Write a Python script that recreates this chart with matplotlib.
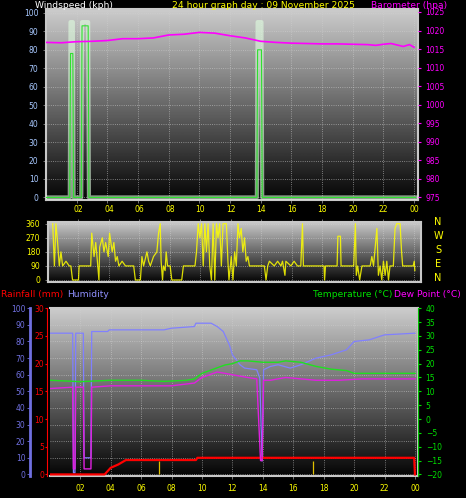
import matplotlib
matplotlib.use("Agg")
import matplotlib.pyplot as plt
import numpy as np

# ---- data ----
hour_ticks = [2, 4, 6, 8, 10, 12, 14, 16, 18, 20, 22, 24]
hour_labels = ["02", "04", "06", "08", "10", "12", "14", "16", "18", "20", "22", "00"]

wind_h = [0, 1.55, 1.6, 1.75, 1.8, 2.3, 2.35, 2.75, 2.8, 13.75, 13.8, 14.05, 14.1, 24.1]
wind_v = [0, 0, 78, 78, 0, 0, 93, 93, 0, 0, 80, 80, 0, 0]
gust_v = [0, 0, 95, 95, 0, 0, 95, 95, 0, 0, 95, 95, 0, 0]

baro_h = [0, 1, 2, 3, 4, 5, 6, 7, 8, 9, 10, 11, 12, 13, 14, 15, 16, 17, 18, 19, 20,
          21, 21.5, 22, 22.5, 23, 23.3, 23.7, 24]
baro_v = [1016.8, 1016.7, 1017.0, 1017.1, 1017.3, 1017.8, 1017.8, 1018.0, 1018.8, 1019.0,
          1019.5, 1019.3, 1018.6, 1018.0, 1017.1, 1016.8, 1016.6, 1016.5, 1016.4, 1016.4,
          1016.3, 1016.2, 1016.0, 1016.3, 1016.5, 1016.0, 1015.7, 1016.2, 1015.5]

dir_h = [0.31, 0.42, 0.52, 0.63, 0.74, 0.85, 0.96, 1.18, 1.39, 1.50, 1.61, 2.0, 2.04, 2.80,
         2.87, 3.02, 3.13, 3.24, 3.34, 3.39, 3.56, 3.67, 3.78, 3.95, 4.04, 4.21, 4.32, 4.43,
         4.54, 4.65, 4.86, 5.08, 5.62, 5.73, 6.06, 6.12, 6.16, 6.27, 6.49, 6.60, 6.71, 6.92,
         7.14, 7.25, 7.36, 7.42, 7.51, 7.57, 7.68, 7.75, 7.84, 8.01, 8.12, 8.77, 8.88, 9.64,
         9.74, 9.85, 9.96, 10.07, 10.18, 10.29, 10.39, 10.50, 10.61, 10.72, 10.83, 10.94,
         11.05, 11.15, 11.26, 11.37, 11.48, 11.70, 11.80, 11.87, 12.02, 12.13, 12.24, 12.35,
         12.46, 12.56, 12.67, 12.78, 12.89, 13.00, 13.11, 13.21, 13.54, 14.19, 14.30, 14.41,
         14.52, 14.84, 15.06, 15.28, 15.38, 15.54, 15.60, 15.93, 16.14, 16.36, 16.58, 16.69,
         16.75, 18.10, 18.14, 18.20, 18.96, 19.01, 19.18, 19.22, 20.05, 20.16, 20.22, 20.31,
         20.44, 20.59, 21.13, 21.24, 21.35, 21.57, 21.67, 21.78, 21.89, 22.00, 22.11, 22.22,
         22.33, 22.43, 22.65, 22.76, 22.87, 23.09, 23.19, 23.26, 23.95, 24.02, 24.06]
dir_v = [360, 90, 360, 240, 90, 180, 90, 120, 90, 90, 0, 0, 90, 90,
         300, 150, 240, 120, 0, 210, 270, 180, 240, 150, 300, 180, 240, 120,
         150, 90, 120, 90, 90, 0, 0, 90, 150, 90, 180, 120, 90, 150,
         180, 300, 360, 120, 0, 90, 60, 180, 90, 90, 0, 0, 90, 90,
         180, 360, 270, 360, 90, 360, 180, 360, 90, 0, 360, 0,
         360, 270, 360, 90, 360, 360, 120, 0, 150, 0, 180, 90,
         360, 270, 330, 180, 270, 120, 150, 90, 90, 90, 0, 90,
         120, 90, 120, 90, 120, 30, 120, 90, 120, 90, 90, 360,
         90, 90, 0, 90, 90, 280, 280, 90, 90, 360, 30, 90,
         0, 90, 90, 150, 90, 330, 30, 90, 0, 120, 30, 120,
         0, 90, 90, 330, 360, 360, 180, 90, 90, 120, 60]

hum_h = [0, 1.5, 1.55, 1.65, 1.7, 2.2, 2.25, 2.7, 2.75, 3.8, 3.9, 7.5, 8.0, 9.5, 9.6, 10.6,
         11.0, 11.4, 11.8, 12.0, 12.5, 12.8, 13.6, 13.8, 13.95, 14.05, 14.5, 15.0, 15.8,
         16.5, 17.0, 17.5, 18.5, 19.5, 20.0, 21.0, 22.0, 24.0]
hum_v = [85, 85, 1, 1, 85, 85, 10, 10, 86, 86, 87, 87, 88, 89, 91, 91,
         89, 86, 78, 72, 66, 64, 63, 58, 8, 63, 65, 66, 64,
         66, 68, 70, 72, 75, 80, 81, 84, 85]

temp_h = [0, 2, 4, 6, 7.5, 9, 9.5, 10, 10.5, 11, 11.5, 12, 12.5, 13, 14, 15, 15.5, 16.5,
          17.5, 18.5, 19.5, 20, 22, 24]
temp_v = [14, 13.5, 14, 14, 13.6, 14, 14.5, 16.5, 17.5, 18.5, 19.5, 20, 21, 21, 20.5,
          20.5, 21, 20.5, 19, 18, 17.5, 16.5, 16.5, 16.5]

dew_h = [0, 1.5, 1.55, 1.65, 1.7, 2.2, 2.25, 2.7, 2.75, 4, 5, 8, 9.5, 10, 10.5, 11, 11.5,
         12, 12.5, 13, 13.6, 13.85, 13.95, 14.05, 14.5, 15.5, 16.5, 17.5, 19, 20.5, 24]
dew_v = [11, 11.5, -18, -18, 11.5, 11.5, -18, -18, 11.5, 12, 12, 12, 13, 15, 16, 17, 16.5,
         16, 15.5, 15, 14.5, -15, -15, 14, 14, 15, 14.5, 14, 14, 14.5, 14.5]

rain_h = [0, 3.6, 4.0, 4.5, 5.0, 9.6, 9.7, 23.95, 24.0]
rain_v = [0, 0, 1.2, 1.8, 2.6, 2.6, 3.0, 3.0, 0]
rate_h = [7.2, 17.3]
rate_v = [2.4, 2.4]

BG = "black"
fig = plt.figure(figsize=(4.66, 4.98), dpi=100, facecolor=BG)
FS = 5.5
TFS = 6.6


def backdrop(ax, xmax, ylo, yhi):
    grad = np.linspace(0.8, 0.02, 256).reshape(-1, 1)
    ax.imshow(grad, aspect="auto", cmap="gray", vmin=0, vmax=1,
              extent=[0, xmax, ylo, yhi], zorder=0)
    ax.set_xlim(0, xmax)
    ax.set_ylim(ylo, yhi)
    ax.set_facecolor(BG)
    ax.grid(True, color="#d0d0d0", linestyle=":", linewidth=0.6, alpha=0.7)
    for s in ax.spines.values():
        s.set_color("#c8c8c8")
        s.set_linewidth(1.5)
    ax.tick_params(length=2, labelsize=FS, width=0.6, colors="#888888")
    ax.set_xticks(hour_ticks)


# ---- wind / barometer ----
ax1 = fig.add_axes([0.0987, 0.598, 0.798, 0.3835])
backdrop(ax1, 24.25, -1.5, 102)
ax1.set_yticks(range(0, 101, 10))
ax1.tick_params(axis="y", labelcolor="#a8c8ff")
ax1.set_xticklabels([])
ax1.plot(wind_h, gust_v, color="#e0ffe0", lw=3, alpha=0.6, zorder=3)
ax1.plot(wind_h, wind_v, color="#30e030", lw=0.8, zorder=4)
ax1b = ax1.twinx()
ax1b.set_ylim(974.25, 1025.75)
ax1b.set_yticks(range(975, 1026, 5))
ax1b.tick_params(labelsize=FS, colors="#ff00ff", length=2)
for s in ax1b.spines.values():
    s.set_visible(False)
ax1b.plot(baro_h, baro_v, color="#ff00ff", lw=1.2)

fig.text(0.075, 0.983, "Windspeed (kph)", color="white", fontsize=TFS, ha="left")
fig.text(0.37, 0.983, "24 hour graph day : 09 November 2025", color="yellow", fontsize=TFS)
fig.text(0.796, 0.983, "Barometer (hpa)", color="#ff00ff", fontsize=TFS)

# ---- wind direction ----
ax2 = fig.add_axes([0.103, 0.434, 0.80, 0.1205])
backdrop(ax2, 24.45, -12, 372)
ax2.set_yticks([0, 90, 180, 270, 360])
ax2.tick_params(axis="y", labelcolor="yellow")
ax2.xaxis.tick_top()
ax2.set_xticklabels(hour_labels, color="yellow")
ax2.plot(dir_h, dir_v, color="#ffff00", lw=0.9, alpha=0.85, zorder=3)
for i, c in enumerate("NWSEN"):
    fig.text(0.94, 1 - (222 + i * 14) / 498, c, color="yellow", fontsize=7,
             ha="center", va="center")

fig.text(0.003, 0.404, "Rainfall (mm)", color="red", fontsize=TFS)
fig.text(0.144, 0.404, "Humidity", color="#9090ff", fontsize=TFS)
fig.text(0.672, 0.404, "Temperature (°C)", color="#00e000", fontsize=TFS)
fig.text(0.846, 0.404, "Dew Point (°C)", color="#ff00ff", fontsize=TFS)

# ---- humidity / rain / temperature ----
ax3 = fig.add_axes([0.107, 0.044, 0.79, 0.337])
backdrop(ax3, 24.2, -1, 100)
ax3.set_xticklabels(hour_labels, color="yellow")
ax3.set_yticks(range(0, 101, 10))
ax3.spines["left"].set_position(("outward", 14))
ax3.spines["left"].set_color("#7070e0")
ax3.spines["left"].set_linewidth(2)
ax3.tick_params(axis="y", labelcolor="#7070e0", colors="#7070e0", pad=1.5)
ax3.plot(hum_h, hum_v, color="#8080ff", lw=0.9, zorder=3)

ax3r = ax3.twinx()
ax3r.set_ylim(-0.3, 30)
ax3r.set_yticks([0, 5, 10, 15, 20, 25, 30])
ax3r.yaxis.set_ticks_position("left")
ax3r.yaxis.set_label_position("left")
ax3r.spines["left"].set_position(("outward", 2))
ax3r.spines["left"].set_color("red")
ax3r.spines["left"].set_visible(True)
ax3r.spines["right"].set_visible(False)
ax3r.spines["top"].set_visible(False)
ax3r.spines["bottom"].set_visible(False)
ax3r.tick_params(labelsize=FS, colors="red", length=1.5, pad=0.8)
ax3r.plot(rain_h, rain_v, color="red", lw=1.6, zorder=4)
ax3r.vlines(rate_h, 0, rate_v, color="#e0c000", lw=0.9)

ax3t = ax3.twinx()
ax3t.set_ylim(-20.6, 40)
ax3t.set_yticks(range(-20, 41, 5))
ax3t.tick_params(labelsize=FS, colors="#00e000", length=2)
for s in ax3t.spines.values():
    s.set_visible(False)
ax3t.spines["right"].set_visible(True)
ax3t.spines["right"].set_color("#00c000")
ax3t.plot(temp_h, temp_v, color="#20e020", lw=1.0, zorder=3)
ax3t.plot(dew_h, dew_v, color="#e020e0", lw=1.0, zorder=3)

fig.savefig("out.png", dpi=100, facecolor=BG)
